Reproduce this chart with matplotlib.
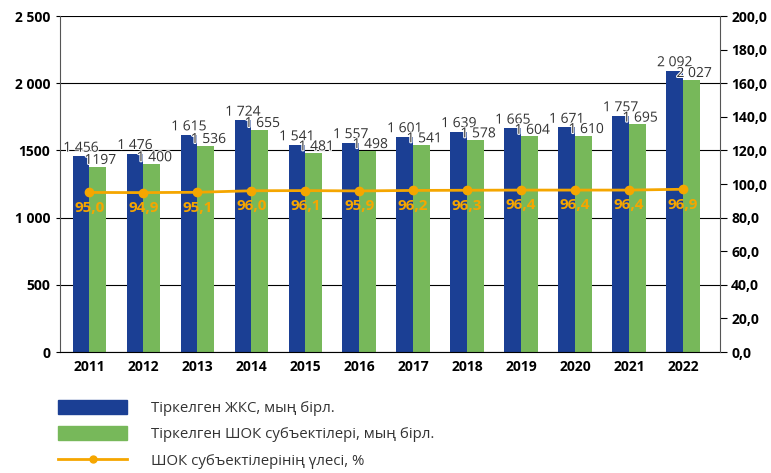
import matplotlib.pyplot as plt
from matplotlib.patches import Patch
from matplotlib.lines import Line2D
from matplotlib.ticker import FixedLocator, FixedFormatter
import matplotlib.patheffects as pe
import numpy as np

plt.rcParams['font.family'] = ['Open Sans', 'DejaVu Sans']

# data
years = ['2011', '2012', '2013', '2014', '2015', '2016', '2017', '2018', '2019', '2020', '2021', '2022']
zhks = [1456, 1476, 1615, 1724, 1541, 1557, 1601, 1639, 1665, 1671, 1757, 2092]
zhks_labels = ['1 456', '1 476', '1 615', '1 724', '1 541', '1 557', '1 601', '1 639', '1 665', '1 671', '1 757', '2 092']
shok = [1380, 1400, 1536, 1655, 1481, 1498, 1541, 1578, 1604, 1610, 1695, 2027]
shok_labels = ['1197', '1 400', '1 536', '1 655', '1 481', '1 498', '1 541', '1 578', '1 604', '1 610', '1 695', '2 027']
share = [95.0, 94.9, 95.1, 96.0, 96.1, 95.9, 96.2, 96.3, 96.4, 96.4, 96.4, 96.9]
share_labels = ['95,0', '94,9', '95,1', '96,0', '96,1', '95,9', '96,2', '96,3', '96,4', '96,4', '96,4', '96,9']

left_ticks = [0, 500, 1000, 1500, 2000, 2500]
left_tick_labels = ['0', '500', '1 000', '1500', '2 000', '2 500']
right_ticks = np.arange(0, 201, 20)

blue = '#1B3F94'
green = '#77B85A'
orange = '#F5A600'
text_col = '#333333'

fig = plt.figure(figsize=(7.71, 4.73), dpi=100)
ax = fig.add_axes([0.0778, 0.2558, 0.8562, 0.7102])
x = np.arange(len(years))
w = 0.31

ax.bar(x - w / 2, zhks, w, color=blue, zorder=2)
ax.bar(x + w / 2, shok, w, color=green, zorder=2)

halo = [pe.withStroke(linewidth=1.5, foreground='white')]
for i in range(len(years)):
    ax.text(x[i] - w / 2, zhks[i] + 5, zhks_labels[i], ha='center', va='bottom',
            fontsize=10, color=text_col, zorder=4, path_effects=halo)
    ax.text(x[i] + w / 2 + 0.05, shok[i] - 10, shok_labels[i], ha='center', va='bottom',
            fontsize=10, color=text_col, zorder=4, path_effects=halo)

ax.set_xlim(-0.544, 11.686)
ax.set_ylim(0, 2500)
ax.yaxis.set_major_locator(FixedLocator(left_ticks))
ax.yaxis.set_major_formatter(FixedFormatter(left_tick_labels))
ax.grid(axis='y', color='black', linewidth=0.8, zorder=0)
ax.set_xticks(x)
ax.set_xticklabels(years, fontweight='bold', fontsize=10)
ax.tick_params(axis='x', length=0, pad=6)
ax.tick_params(axis='y', length=3, labelsize=10, colors='black', pad=4)
for lab in ax.get_yticklabels():
    lab.set_fontweight('bold')
for s in ['top', 'right']:
    ax.spines[s].set_visible(False)
ax.spines['left'].set_color('#555555')
ax.spines['bottom'].set_color('black')

ax2 = ax.twinx()
ax2.plot(x, share, color=orange, lw=2, marker='o', ms=6, zorder=5)
for i in range(len(years)):
    ax2.annotate(share_labels[i], (x[i], share[i]), xytext=(0, -11), textcoords='offset points',
                 ha='center', va='center', fontsize=11, fontweight='bold', color=orange, zorder=6)
ax2.set_ylim(0, 200)
ax2.set_yticks(right_ticks)
ax2.set_yticklabels([f'{v:.1f}'.replace('.', ',') for v in right_ticks], fontweight='bold')
ax2.tick_params(axis='y', length=5, direction='out', labelsize=10, pad=3)
for s in ['top', 'left', 'bottom']:
    ax2.spines[s].set_visible(False)
ax2.spines['right'].set_color('#555555')

handles = [Patch(color=blue), Patch(color=green),
           Line2D([0], [0], color=orange, lw=2, marker='o', ms=5)]
labels = ['Тіркелген ЖКС, мың бірл.', 'Тіркелген ШОК субъектілері, мың бірл.', 'ШОК субъектілерінің үлесі, %']
fig.legend(handles, labels, loc='upper left', bbox_to_anchor=(0.058, 0.183), frameon=False,
           fontsize=10.8, handlelength=4.6, handleheight=1.07, labelspacing=0.68, handletextpad=1.6,
           labelcolor=text_col)

fig.savefig('out.png', dpi=100)
